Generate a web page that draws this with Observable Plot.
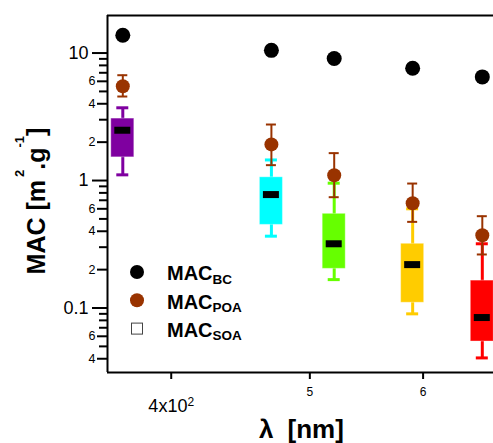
<!DOCTYPE html>
<html><head><meta charset="utf-8">
<script src="https://cdn.jsdelivr.net/npm/d3@7"></script>
<script src="https://cdn.jsdelivr.net/npm/@observablehq/plot@0.6"></script>
<style>body{margin:0;background:#fff;} svg{display:block;}</style>
</head><body><div id="chart"></div>
<script>
// ---- data ----
const wavelengths = [370, 470, 520, 590, 660];
const bcMAC = [13.8, 10.5, 9.05, 7.6, 6.5];
const poaMAC = [5.49, 1.92, 1.10, 0.664, 0.372];
const poaLow = [4.56, 1.32, 0.74, 0.474, 0.263];
const poaHigh = [6.7, 2.75, 1.64, 0.947, 0.525];
const soaWhiskerLow = [1.108, 0.366, 0.167, 0.090, 0.0406];
const soaQ1 = [1.52, 0.449, 0.203, 0.110, 0.0546];
const soaMedian = [2.48, 0.776, 0.319, 0.219, 0.0842];
const soaQ3 = [3.06, 1.06, 0.548, 0.319, 0.164];
const soaWhiskerHigh = [3.72, 1.45, 0.953, 0.600, 0.319];
const soaColors = ["#7f00a0", "#00ffff", "#66ff00", "#ffcc00", "#ff0000"];
const decadeTicks = [0.1, 1, 10];
const labeledMinorTicks = [0.04, 0.06, 0.2, 0.4, 0.6, 2, 4, 6];
const minorTicks = [0.05, 0.07, 0.08, 0.09, 0.3, 0.5, 0.7, 0.8, 0.9, 3, 5, 7, 8, 9];
const xSmallTicks = [500, 600];
const xMainTick = [400];
const legendSeries = ["BC", "POA", "SOA"];

const rows = wavelengths.map((w, i) => ({
  w, bc: bcMAC[i], poa: poaMAC[i], poaLow: poaLow[i], poaHigh: poaHigh[i],
  lo: soaWhiskerLow[i], q1: soaQ1[i], med: soaMedian[i], q3: soaQ3[i], hi: soaWhiskerHigh[i],
  color: soaColors[i]
}));

const W = 493, H = 443, mL = 107, mR = 0, mT = 15, mB = 71;
const xDomain = [361, 672];
const yDomain = [0.0312, 19.7];
const pxPerDecade = (W - mL - mR) / Math.log10(xDomain[1] / xDomain[0]);
const half = px => Math.pow(10, px / pxPerDecade);
const brown = "#993300";
const font = "'Liberation Sans', Arial, sans-serif";

const plot = Plot.plot({
  width: W, height: H,
  marginLeft: mL, marginRight: mR, marginTop: mT, marginBottom: mB,
  style: {fontFamily: font, color: "black", background: "white"},
  x: {type: "log", domain: xDomain},
  y: {type: "log", domain: yDomain},
  color: {type: "identity"},
  marks: [
    // SOA boxes
    Plot.ruleX(rows, {x: "w", y1: "lo", y2: "hi", stroke: "color", strokeWidth: 3}),
    Plot.ruleY(rows, {x1: d => d.w / half(6), x2: d => d.w * half(6), y: "lo", stroke: "color", strokeWidth: 3}),
    Plot.ruleY(rows, {x1: d => d.w / half(6), x2: d => d.w * half(6), y: "hi", stroke: "color", strokeWidth: 3}),
    Plot.rect(rows, {x1: d => d.w / half(11.5), x2: d => d.w * half(11.5), y1: "q1", y2: "q3", fill: "color", stroke: "white", strokeOpacity: 0.35, strokeWidth: 1}),
    Plot.ruleY(rows, {x1: d => d.w / half(8), x2: d => d.w * half(8), y: "med", stroke: "black", strokeWidth: 7}),
    // POA
    Plot.ruleX(rows, {x: "w", y1: "poaLow", y2: "poaHigh", stroke: brown, strokeWidth: 2}),
    Plot.ruleY(rows, {x1: d => d.w / half(5), x2: d => d.w * half(5), y: "poaLow", stroke: brown, strokeWidth: 2}),
    Plot.ruleY(rows, {x1: d => d.w / half(5), x2: d => d.w * half(5), y: "poaHigh", stroke: brown, strokeWidth: 2}),
    Plot.dot(rows, {x: "w", y: "poa", r: 7, fill: brown}),
    // BC
    Plot.dot(rows, {x: "w", y: "bc", r: 7.5, fill: "black"}),
    // frame lines
    Plot.ruleX([xDomain[0]], {stroke: "black", strokeWidth: 2}),
    Plot.ruleY([yDomain[0]], {stroke: "black", strokeWidth: 2}),
    Plot.ruleY([yDomain[1]], {stroke: "black", strokeWidth: 2}),
    // y axis ticks
    Plot.axisY(decadeTicks, {tickSize: 15, tickPadding: 4, fontSize: 18, strokeWidth: 2, tickFormat: d => String(d), label: null}),
    Plot.axisY(labeledMinorTicks, {tickSize: 10, strokeWidth: 2, tickFormat: () => "", label: null}),
    Plot.axisY(minorTicks, {tickSize: 8, strokeWidth: 2, tickFormat: () => "", label: null}),
    Plot.text(labeledMinorTicks, {y: d => d, text: d => d.toPrecision(1).slice(-1), frameAnchor: "left", dx: -12, textAnchor: "end", fontSize: 12.5}),
    // x axis ticks
    Plot.axisX(xSmallTicks.concat(xMainTick), {tickSize: 7, strokeWidth: 2, tickFormat: () => "", label: null}),
    Plot.text(xSmallTicks, {x: d => d, text: d => String(d / 100), frameAnchor: "bottom", dy: 15, lineAnchor: "top", fontSize: 12}),
    Plot.text(xMainTick, {x: d => d, text: d => String(d / 100) + "x10", frameAnchor: "bottom", dy: 27, lineAnchor: "top", fontSize: 18})
  ]
});

const svg = d3.select(plot);
// superscript on 4x10^2
svg.selectAll("text").filter(function() { return this.textContent === "4x10"; })
  .append("tspan").attr("dy", "-0.55em").attr("font-size", 12).text("2");

// y label
const yl = svg.append("text")
  .attr("transform", "translate(45,201) rotate(-90)")
  .attr("text-anchor", "middle")
  .attr("font-family", font).attr("font-weight", "bold").attr("font-size", 25).attr("fill", "black");
yl.append("tspan").text("MAC [m");
yl.append("tspan").attr("dx", 3).attr("dy", -21).attr("font-size", 13).text("2");
yl.append("tspan").attr("dy", 21).text(".g");
yl.append("tspan").attr("dy", -21).attr("font-size", 13).text("-1");
yl.append("tspan").attr("dy", 21).text("]");

// x label
const xl = svg.append("text")
  .attr("x", 259).attr("y", 438).attr("text-anchor", "start")
  .attr("font-family", font).attr("font-weight", "bold").attr("font-size", 26).attr("fill", "black");
xl.append("tspan").text("λ");
xl.append("tspan").attr("dx", 14).text("[nm]");

// legend
const legend = svg.append("g").attr("font-family", font).attr("fill", "black").attr("text-anchor", "start");
legendSeries.forEach((s, i) => {
  const cy = 272 + 28.3 * i;
  if (i < 2) {
    legend.append("circle").attr("cx", 137).attr("cy", cy).attr("r", 7).attr("fill", i === 0 ? "black" : brown);
  } else {
    legend.append("rect").attr("x", 131.5).attr("y", cy - 5.5).attr("width", 11).attr("height", 11)
      .attr("fill", "white").attr("stroke", "#444").attr("stroke-width", 1);
  }
  const t = legend.append("text").attr("x", 167).attr("y", cy + 8.3).attr("font-weight", "bold").attr("font-size", 20);
  t.append("tspan").text("MAC");
  t.append("tspan").attr("dy", 3.5).attr("font-size", 13.5).text(s);
});

document.getElementById("chart").appendChild(plot);
</script>
</body></html>
